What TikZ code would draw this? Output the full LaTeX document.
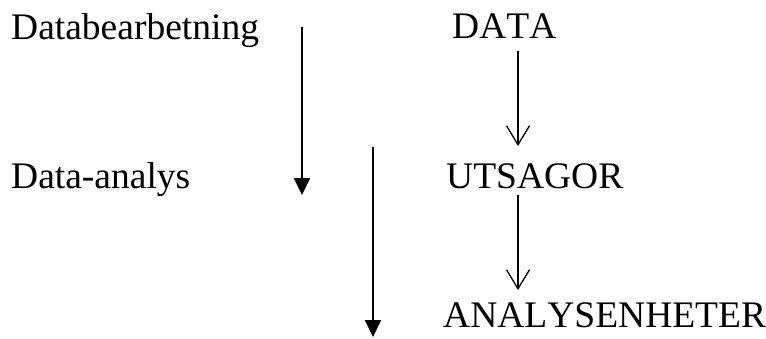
\documentclass[tikz,border=0pt]{standalone}
\usepackage{fontspec}
\setmainfont[Kerning=Off]{Liberation Serif}
\usetikzlibrary{arrows.meta}
\begin{document}
\begin{tikzpicture}[x=1pt,y=-1pt,
  label/.style={anchor=base west,inner sep=0pt,font=\fontsize{37.5}{40}\selectfont},
  phase/.style={line width=2pt,-{Triangle[width=16pt,length=17pt]}},
  flow/.style={line width=1.3pt,-{Straight Barb[width=23pt,length=19pt,line width=1.3pt]}}]
\useasboundingbox (0,0) rectangle (766,338);
% stage labels
\node[label] (bearb) at (11,39) {Databearbetning};
\node[label] (analys) at (11,188) {Data-analys};
% chain of items
\node[label] (data) at (452,38) {DATA};
\node[label] (uts) at (446,188) {UTSAGOR};
\node[label] (enh) at (443,327) {ANALYSENHETER};
% phase arrows
\coordinate (p1s) at (302,27);
\coordinate (p1e) at (302,195);
\coordinate (p2s) at (373,147);
\coordinate (p2e) at (373,337);
\draw[phase] (p1s) -- (p1e);
\draw[phase] (p2s) -- (p2e);
% chain arrows
\coordinate (f1s) at (518,51);
\coordinate (f1e) at (518,146);
\coordinate (f2s) at (518,195);
\coordinate (f2e) at (518,290);
\draw[flow] (f1s) -- (f1e);
\draw[flow] (f2s) -- (f2e);
\end{tikzpicture}
\end{document}
